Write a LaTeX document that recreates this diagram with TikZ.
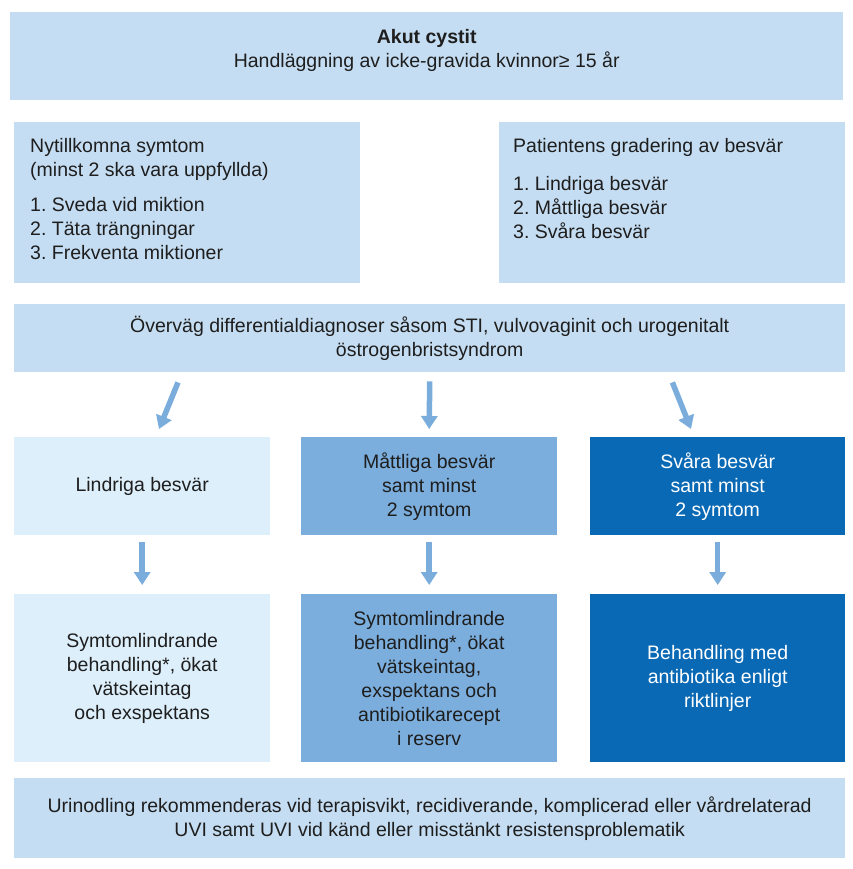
\documentclass[tikz,border=0pt]{standalone}
\usepackage{fontspec}
\setmainfont{Liberation Sans}
\usetikzlibrary{arrows.meta}
\frenchspacing

\definecolor{boxblue}{HTML}{C5DDF2}
\definecolor{paleblue}{HTML}{DDEFFB}
\definecolor{midblue}{HTML}{7BAEDD}
\definecolor{darkblue}{HTML}{0A69B5}
\definecolor{arrowblue}{HTML}{7AADDB}
\definecolor{inktext}{HTML}{1E1E1E}

\begin{document}
\begin{tikzpicture}[x=1pt, y=-1pt,
	every node/.style={font=\fontsize{19.5}{24}\selectfont, text=inktext},
	box/.style={draw=none, anchor=north west, inner sep=0pt, align=center},
	flow/.style={-{Triangle[length=13pt, width=16pt]}, line width=5.5pt, arrowblue}]
	\useasboundingbox (0,0) rectangle (852,869);
	% header and the two upper boxes
	\node[box, fill=boxblue, minimum width=833pt, minimum height=88pt] (head) at (10,12) {};
	\node[align=center] (headtxt) at ([yshift=-38pt]head.north) {\textbf{Akut cystit}\\Handläggning av icke-gravida kvinnor≥ 15 år};
	\node[box, fill=boxblue, minimum width=346pt, minimum height=161pt] (symptoms) at (14,122) {};
	\node[anchor=north west, inner sep=0pt, align=left] (symptxt) at ([shift={(16pt,-16pt)}]symptoms.north west)
		{Nytillkomna symtom\\(minst 2 ska vara uppfyllda)\\[11pt]1. Sveda vid miktion\\2. Täta trängningar\\3. Frekventa miktioner};
	\node[box, fill=boxblue, minimum width=346pt, minimum height=161pt] (grading) at (499,122) {};
	\node[anchor=north west, inner sep=0pt, align=left] (gradtxt) at ([shift={(14pt,-16pt)}]grading.north west)
		{Patientens gradering av besvär\\[14pt]1. Lindriga besvär\\2. Måttliga besvär\\3. Svåra besvär};
	\node[box, fill=boxblue, minimum width=831pt, minimum height=68pt] (differential) at (14,304)
		{Överväg differentialdiagnoser såsom STI, vulvovaginit och urogenitalt\\östrogenbristsyndrom};
	% severity
	\node[box, fill=paleblue, minimum width=256pt, minimum height=98pt] (mild) at (14,437) {Lindriga besvär};
	\node[box, fill=midblue, minimum width=256pt, minimum height=98pt] (moderate) at (301,437) {Måttliga besvär\\samt minst\\2 symtom};
	\node[box, fill=darkblue, text=white, minimum width=255pt, minimum height=98pt] (severe) at (590,437) {Svåra besvär\\samt minst\\2 symtom};
	% treatment
	\node[box, fill=paleblue, minimum width=256pt, minimum height=168pt] (mildcare) at (14,594)
		{Symtomlindrande\\behandling*, ökat\\vätskeintag\\och exspektans};
	\node[box, fill=midblue, minimum width=256pt, minimum height=168pt] (moderatecare) at (301,594)
		{Symtomlindrande\\behandling*, ökat\\vätskeintag,\\exspektans och\\antibiotikarecept\\i reserv};
	\node[box, fill=darkblue, text=white, minimum width=255pt, minimum height=168pt] (severecare) at (590,594)
		{Behandling med\\antibiotika enligt\\riktlinjer};
	\node[box, fill=boxblue, minimum width=831pt, minimum height=80pt] (culture) at (14,778)
		{Urinodling rekommenderas vid terapisvikt, recidiverande, komplicerad eller vårdrelaterad\\UVI samt UVI vid känd eller misstänkt resistensproblematik};
	% arrows
	\draw[flow] ([shift={(164pt,-10pt)}]differential.south west) -- ([shift={(145pt,8pt)}]mild.north west);
	\draw[flow] ([yshift=-9pt]differential.south) -- ([yshift=8pt]moderate.north);
	\draw[flow] ([shift={(-173pt,-10pt)}]differential.south east) -- ([shift={(101pt,8pt)}]severe.north west);
	\foreach \a/\b in {mild/mildcare, moderate/moderatecare, severe/severecare}
		\draw[flow] ([yshift=-7pt]\a.south) -- ([yshift=9pt]\b.north);
\end{tikzpicture}
\end{document}
